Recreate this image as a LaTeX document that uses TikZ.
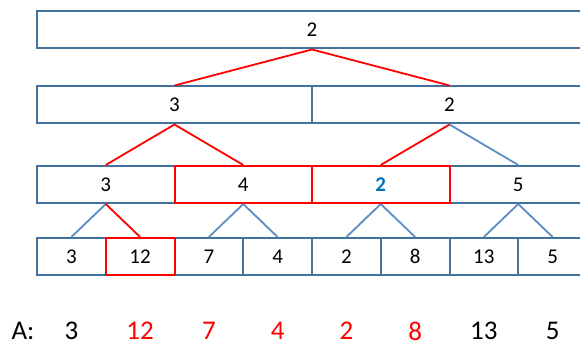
\documentclass[tikz,border=0pt]{standalone}
\usepackage{fontspec}
\setmainfont{Carlito}
\definecolor{boxblue}{HTML}{41719C}
\definecolor{linkblue}{HTML}{5B8CC6}
\definecolor{markred}{HTML}{FF0000}
\definecolor{minblue}{HTML}{0070C0}
\tikzset{
  cell/.style={draw=boxblue, line width=2pt, minimum height=37pt, inner sep=0pt, font=\fontsize{21}{21}\selectfont},
  redcell/.style={cell, draw=markred},
  redlink/.style={draw=markred, line width=1.8pt},
  bluelink/.style={draw=linkblue, line width=1.8pt},
  arrval/.style={font=\fontsize{27}{27}\selectfont},
}
\begin{document}
\begin{tikzpicture}[x=1pt,y=-1pt]
    \useasboundingbox (0,0) rectangle (580,347);
    \clip (0,0) rectangle (580,347);
    % Level 0: whole array
    \node[cell, minimum width=550pt] (r) at (312,30) {2};
    % Level 1: halves
    \node[cell, minimum width=275pt] (h1) at (174.5,105) {3};
    \node[cell, minimum width=275pt] (h2) at (449.5,105) {2};
    % Level 2: quarters
    \node[cell, minimum width=137.5pt] (q1) at (105.75,184.5) {3};
    \node[cell, minimum width=137.5pt] (q4) at (518.25,184.5) {5};
    \node[redcell, minimum width=137.5pt] (q2) at (243.25,184.5) {4};
    \node[redcell, minimum width=137.5pt] (q3) at (380.75,184.5) {\textcolor{minblue}{\bfseries 2}};
    % Level 3: leaves
    \node[cell, minimum width=68.75pt] (l1) at (71.375,256.5) {3};
    \node[cell, minimum width=68.75pt] (l3) at (208.875,256.5) {7};
    \node[cell, minimum width=68.75pt] (l4) at (277.625,256.5) {4};
    \node[cell, minimum width=68.75pt] (l5) at (346.375,256.5) {2};
    \node[cell, minimum width=68.75pt] (l6) at (415.125,256.5) {8};
    \node[cell, minimum width=68.75pt] (l7) at (483.875,256.5) {13};
    \node[cell, minimum width=68.75pt] (l8) at (552.625,256.5) {5};
    \node[redcell, minimum width=68.75pt] (l2) at (140.125,256.5) {12};
    % links between levels
    \draw[redlink] (r.south) -- (h1.north);
    \draw[redlink] (r.south) -- (h2.north);
    \draw[redlink] (h1.south) -- (q1.north);
    \draw[redlink] (h1.south) -- (q2.north);
    \draw[redlink] (h2.south) -- (q3.north);
    \draw[bluelink] (h2.south) -- (q4.north);
    \draw[bluelink] (q1.south) -- (l1.north);
    \draw[redlink] (q1.south) -- (l2.north);
    \draw[bluelink] (q2.south) -- (l3.north);
    \draw[bluelink] (q2.south) -- (l4.north);
    \draw[bluelink] (q3.south) -- (l5.north);
    \draw[bluelink] (q3.south) -- (l6.north);
    \draw[bluelink] (q4.south) -- (l7.north);
    \draw[bluelink] (q4.south) -- (l8.north);
    % the array itself
    \node[arrval] (alab) at (23,331) {A:};
    \node[arrval] (a1) at (71.375,331) {3};
    \node[arrval, text=markred] (a2) at (140.125,331) {12};
    \node[arrval, text=markred] (a3) at (208.875,331) {7};
    \node[arrval, text=markred] (a4) at (277.625,331) {4};
    \node[arrval, text=markred] (a5) at (346.375,331) {2};
    \node[arrval, text=markred] (a6) at (415.125,331) {8};
    \node[arrval] (a7) at (483.875,331) {13};
    \node[arrval] (a8) at (552.625,331) {5};
\end{tikzpicture}
\end{document}
